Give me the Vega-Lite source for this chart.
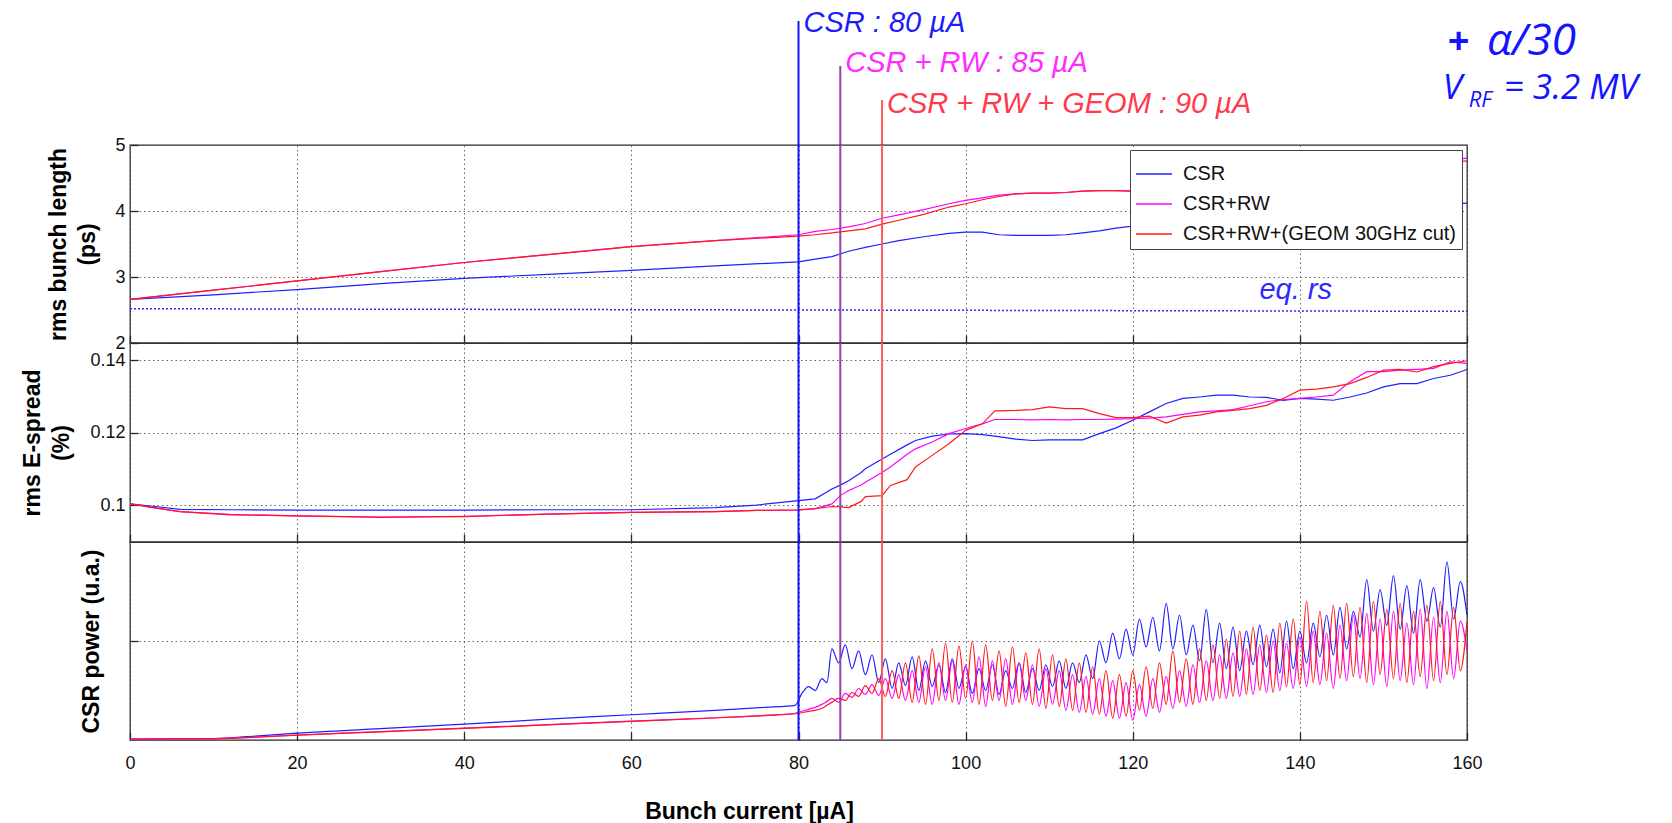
{
  "$schema": "https://vega.github.io/schema/vega-lite/v6.json",
  "autosize": {"type": "pad"},
  "padding": {"left": 21, "top": 0, "right": 5, "bottom": 0},
  "spacing": 0,
  "bounds": "flush",
  "config": {
    "font": "Liberation Sans",
    "view": {"stroke": "#262626", "strokeWidth": 1.3},
    "axis": {
      "domain": false,
      "grid": true,
      "gridColor": "#666666",
      "gridDash": [1.5, 3],
      "gridWidth": 1,
      "tickColor": "#262626",
      "tickSize": -8,
      "tickWidth": 1.3,
      "labelFont": "Liberation Sans",
      "labelFontSize": 18,
      "labelColor": "#111111",
      "labelPadding": 13,
      "titleFont": "Liberation Sans",
      "titleFontSize": 23,
      "titleFontWeight": "bold",
      "titleColor": "#000000",
      "titleLineHeight": 29
    }
  },
  "resolve": {
    "scale": {"x": "shared", "y": "independent", "color": "independent", "stroke": "independent", "strokeWidth": "independent"},
    "legend": {"color": "independent"}
  },
  "datasets": {
    "thresholds": [
      {"case": "CSR", "I": 80, "top": 0.855, "ty": 0.779, "text": "CSR : 80 µA"},
      {"case": "CSR + RW", "I": 85, "top": 0.545, "ty": 0.503, "text": "CSR + RW : 85 µA"},
      {"case": "CSR + RW + GEOM", "I": 90, "top": 0.31, "ty": 0.221, "text": "CSR + RW + GEOM : 90 µA"}
    ],
    "bunch": [
      {"I": 0, "CSR": 2.66, "CSR+RW": 2.66, "CSR+RW+(GEOM 30GHz cut)": 2.66},
      {"I": 10, "CSR": 2.73, "CSR+RW": 2.80, "CSR+RW+(GEOM 30GHz cut)": 2.80},
      {"I": 20, "CSR": 2.81, "CSR+RW": 2.94, "CSR+RW+(GEOM 30GHz cut)": 2.94},
      {"I": 30, "CSR": 2.90, "CSR+RW": 3.08, "CSR+RW+(GEOM 30GHz cut)": 3.08},
      {"I": 40, "CSR": 2.98, "CSR+RW": 3.22, "CSR+RW+(GEOM 30GHz cut)": 3.22},
      {"I": 50, "CSR": 3.04, "CSR+RW": 3.34, "CSR+RW+(GEOM 30GHz cut)": 3.34},
      {"I": 60, "CSR": 3.10, "CSR+RW": 3.46, "CSR+RW+(GEOM 30GHz cut)": 3.46},
      {"I": 70, "CSR": 3.17, "CSR+RW": 3.55, "CSR+RW+(GEOM 30GHz cut)": 3.55},
      {"I": 80, "CSR": 3.23, "CSR+RW": 3.64, "CSR+RW+(GEOM 30GHz cut)": 3.62},
      {"I": 82, "CSR": 3.27, "CSR+RW": 3.69, "CSR+RW+(GEOM 30GHz cut)": 3.64},
      {"I": 84, "CSR": 3.31, "CSR+RW": 3.72, "CSR+RW+(GEOM 30GHz cut)": 3.67},
      {"I": 86, "CSR": 3.39, "CSR+RW": 3.76, "CSR+RW+(GEOM 30GHz cut)": 3.70},
      {"I": 88, "CSR": 3.45, "CSR+RW": 3.81, "CSR+RW+(GEOM 30GHz cut)": 3.73},
      {"I": 90, "CSR": 3.50, "CSR+RW": 3.89, "CSR+RW+(GEOM 30GHz cut)": 3.80},
      {"I": 92, "CSR": 3.55, "CSR+RW": 3.94, "CSR+RW+(GEOM 30GHz cut)": 3.86},
      {"I": 95, "CSR": 3.61, "CSR+RW": 4.02, "CSR+RW+(GEOM 30GHz cut)": 3.95},
      {"I": 98, "CSR": 3.66, "CSR+RW": 4.11, "CSR+RW+(GEOM 30GHz cut)": 4.06},
      {"I": 100, "CSR": 3.68, "CSR+RW": 4.16, "CSR+RW+(GEOM 30GHz cut)": 4.11},
      {"I": 102, "CSR": 3.68, "CSR+RW": 4.20, "CSR+RW+(GEOM 30GHz cut)": 4.17},
      {"I": 104, "CSR": 3.64, "CSR+RW": 4.24, "CSR+RW+(GEOM 30GHz cut)": 4.22},
      {"I": 106, "CSR": 3.63, "CSR+RW": 4.26, "CSR+RW+(GEOM 30GHz cut)": 4.26},
      {"I": 108, "CSR": 3.63, "CSR+RW": 4.27, "CSR+RW+(GEOM 30GHz cut)": 4.27},
      {"I": 110, "CSR": 3.63, "CSR+RW": 4.27, "CSR+RW+(GEOM 30GHz cut)": 4.27},
      {"I": 112, "CSR": 3.64, "CSR+RW": 4.28, "CSR+RW+(GEOM 30GHz cut)": 4.28},
      {"I": 114, "CSR": 3.67, "CSR+RW": 4.30, "CSR+RW+(GEOM 30GHz cut)": 4.30},
      {"I": 116, "CSR": 3.70, "CSR+RW": 4.31, "CSR+RW+(GEOM 30GHz cut)": 4.31},
      {"I": 118, "CSR": 3.74, "CSR+RW": 4.31, "CSR+RW+(GEOM 30GHz cut)": 4.31},
      {"I": 120, "CSR": 3.77, "CSR+RW": 4.30, "CSR+RW+(GEOM 30GHz cut)": 4.30},
      {"I": 125, "CSR": 3.83, "CSR+RW": 4.33, "CSR+RW+(GEOM 30GHz cut)": 4.32},
      {"I": 130, "CSR": 3.88, "CSR+RW": 4.38, "CSR+RW+(GEOM 30GHz cut)": 4.37},
      {"I": 135, "CSR": 3.93, "CSR+RW": 4.45, "CSR+RW+(GEOM 30GHz cut)": 4.43},
      {"I": 140, "CSR": 3.97, "CSR+RW": 4.52, "CSR+RW+(GEOM 30GHz cut)": 4.50},
      {"I": 145, "CSR": 4.01, "CSR+RW": 4.59, "CSR+RW+(GEOM 30GHz cut)": 4.56},
      {"I": 150, "CSR": 4.05, "CSR+RW": 4.66, "CSR+RW+(GEOM 30GHz cut)": 4.63},
      {"I": 155, "CSR": 4.08, "CSR+RW": 4.73, "CSR+RW+(GEOM 30GHz cut)": 4.70},
      {"I": 160, "CSR": 4.12, "CSR+RW": 4.80, "CSR+RW+(GEOM 30GHz cut)": 4.76}
    ],
    "eqrs": [
      {"I": 0, "v": 2.52},
      {"I": 160, "v": 2.48}
    ],
    "spread": [
      {"I": 0, "CSR": 0.1003, "CSR+RW": 0.1003, "CSR+RW+(GEOM 30GHz cut)": 0.1003},
      {"I": 3, "CSR": 0.0996, "CSR+RW": 0.0992, "CSR+RW+(GEOM 30GHz cut)": 0.0992},
      {"I": 6, "CSR": 0.0988, "CSR+RW": 0.0982, "CSR+RW+(GEOM 30GHz cut)": 0.0982},
      {"I": 12, "CSR": 0.0987, "CSR+RW": 0.0974, "CSR+RW+(GEOM 30GHz cut)": 0.0973},
      {"I": 20, "CSR": 0.0986, "CSR+RW": 0.0970, "CSR+RW+(GEOM 30GHz cut)": 0.0970},
      {"I": 30, "CSR": 0.0986, "CSR+RW": 0.0967, "CSR+RW+(GEOM 30GHz cut)": 0.0966},
      {"I": 40, "CSR": 0.0986, "CSR+RW": 0.0969, "CSR+RW+(GEOM 30GHz cut)": 0.0968},
      {"I": 50, "CSR": 0.0987, "CSR+RW": 0.0975, "CSR+RW+(GEOM 30GHz cut)": 0.0975},
      {"I": 60, "CSR": 0.0987, "CSR+RW": 0.0980, "CSR+RW+(GEOM 30GHz cut)": 0.0980},
      {"I": 70, "CSR": 0.0993, "CSR+RW": 0.0982, "CSR+RW+(GEOM 30GHz cut)": 0.0982},
      {"I": 75, "CSR": 0.1000, "CSR+RW": 0.0985, "CSR+RW+(GEOM 30GHz cut)": 0.0985},
      {"I": 80, "CSR": 0.1012, "CSR+RW": 0.0986, "CSR+RW+(GEOM 30GHz cut)": 0.0987},
      {"I": 82, "CSR": 0.1017, "CSR+RW": 0.0990, "CSR+RW+(GEOM 30GHz cut)": 0.0990},
      {"I": 84, "CSR": 0.1044, "CSR+RW": 0.1003, "CSR+RW+(GEOM 30GHz cut)": 0.0996},
      {"I": 85, "CSR": 0.1055, "CSR+RW": 0.1026, "CSR+RW+(GEOM 30GHz cut)": 0.0995},
      {"I": 86, "CSR": 0.1067, "CSR+RW": 0.1040, "CSR+RW+(GEOM 30GHz cut)": 0.0993},
      {"I": 87.5, "CSR": 0.1090, "CSR+RW": 0.1055, "CSR+RW+(GEOM 30GHz cut)": 0.1010},
      {"I": 88, "CSR": 0.1100, "CSR+RW": 0.1063, "CSR+RW+(GEOM 30GHz cut)": 0.1023},
      {"I": 90, "CSR": 0.1127, "CSR+RW": 0.1090, "CSR+RW+(GEOM 30GHz cut)": 0.1026},
      {"I": 91, "CSR": 0.1140, "CSR+RW": 0.1105, "CSR+RW+(GEOM 30GHz cut)": 0.1054},
      {"I": 93, "CSR": 0.1166, "CSR+RW": 0.1140, "CSR+RW+(GEOM 30GHz cut)": 0.1070},
      {"I": 94, "CSR": 0.1178, "CSR+RW": 0.1155, "CSR+RW+(GEOM 30GHz cut)": 0.1105},
      {"I": 96, "CSR": 0.1190, "CSR+RW": 0.1174, "CSR+RW+(GEOM 30GHz cut)": 0.1137},
      {"I": 98, "CSR": 0.1196, "CSR+RW": 0.1197, "CSR+RW+(GEOM 30GHz cut)": 0.1169},
      {"I": 100, "CSR": 0.1197, "CSR+RW": 0.1211, "CSR+RW+(GEOM 30GHz cut)": 0.1206},
      {"I": 102, "CSR": 0.1194, "CSR+RW": 0.1224, "CSR+RW+(GEOM 30GHz cut)": 0.1224},
      {"I": 103.5, "CSR": 0.1190, "CSR+RW": 0.1236, "CSR+RW+(GEOM 30GHz cut)": 0.1260},
      {"I": 106, "CSR": 0.1182, "CSR+RW": 0.1236, "CSR+RW+(GEOM 30GHz cut)": 0.1261},
      {"I": 108, "CSR": 0.1178, "CSR+RW": 0.1235, "CSR+RW+(GEOM 30GHz cut)": 0.1263},
      {"I": 110, "CSR": 0.1180, "CSR+RW": 0.1236, "CSR+RW+(GEOM 30GHz cut)": 0.1271},
      {"I": 112, "CSR": 0.1180, "CSR+RW": 0.1235, "CSR+RW+(GEOM 30GHz cut)": 0.1266},
      {"I": 114, "CSR": 0.1180, "CSR+RW": 0.1236, "CSR+RW+(GEOM 30GHz cut)": 0.1266},
      {"I": 116, "CSR": 0.1197, "CSR+RW": 0.1236, "CSR+RW+(GEOM 30GHz cut)": 0.1252},
      {"I": 118, "CSR": 0.1213, "CSR+RW": 0.1237, "CSR+RW+(GEOM 30GHz cut)": 0.1241},
      {"I": 120, "CSR": 0.1234, "CSR+RW": 0.1238, "CSR+RW+(GEOM 30GHz cut)": 0.1241},
      {"I": 122, "CSR": 0.1257, "CSR+RW": 0.1240, "CSR+RW+(GEOM 30GHz cut)": 0.1245},
      {"I": 124, "CSR": 0.1280, "CSR+RW": 0.1243, "CSR+RW+(GEOM 30GHz cut)": 0.1226},
      {"I": 126, "CSR": 0.1294, "CSR+RW": 0.1250, "CSR+RW+(GEOM 30GHz cut)": 0.1243},
      {"I": 128, "CSR": 0.1298, "CSR+RW": 0.1257, "CSR+RW+(GEOM 30GHz cut)": 0.1248},
      {"I": 130, "CSR": 0.1303, "CSR+RW": 0.1260, "CSR+RW+(GEOM 30GHz cut)": 0.1257},
      {"I": 132, "CSR": 0.1303, "CSR+RW": 0.1263, "CSR+RW+(GEOM 30GHz cut)": 0.1261},
      {"I": 134, "CSR": 0.1298, "CSR+RW": 0.1274, "CSR+RW+(GEOM 30GHz cut)": 0.1266},
      {"I": 136, "CSR": 0.1297, "CSR+RW": 0.1285, "CSR+RW+(GEOM 30GHz cut)": 0.1275},
      {"I": 138, "CSR": 0.1289, "CSR+RW": 0.1291, "CSR+RW+(GEOM 30GHz cut)": 0.1294},
      {"I": 140, "CSR": 0.1294, "CSR+RW": 0.1294, "CSR+RW+(GEOM 30GHz cut)": 0.1317},
      {"I": 142, "CSR": 0.1292, "CSR+RW": 0.1298, "CSR+RW+(GEOM 30GHz cut)": 0.1320},
      {"I": 144, "CSR": 0.1289, "CSR+RW": 0.1303, "CSR+RW+(GEOM 30GHz cut)": 0.1326},
      {"I": 146, "CSR": 0.1298, "CSR+RW": 0.1340, "CSR+RW+(GEOM 30GHz cut)": 0.1335},
      {"I": 148, "CSR": 0.1309, "CSR+RW": 0.1368, "CSR+RW+(GEOM 30GHz cut)": 0.1352},
      {"I": 150, "CSR": 0.1326, "CSR+RW": 0.1368, "CSR+RW+(GEOM 30GHz cut)": 0.1372},
      {"I": 152, "CSR": 0.1335, "CSR+RW": 0.1372, "CSR+RW+(GEOM 30GHz cut)": 0.1374},
      {"I": 154, "CSR": 0.1335, "CSR+RW": 0.1374, "CSR+RW+(GEOM 30GHz cut)": 0.1367},
      {"I": 156, "CSR": 0.1349, "CSR+RW": 0.1377, "CSR+RW+(GEOM 30GHz cut)": 0.1382},
      {"I": 158, "CSR": 0.1358, "CSR+RW": 0.1395, "CSR+RW+(GEOM 30GHz cut)": 0.1391},
      {"I": 160, "CSR": 0.1374, "CSR+RW": 0.1391, "CSR+RW+(GEOM 30GHz cut)": 0.1398}
    ],
    "power": [
      {"I": 0, "CSR": 0.01, "CSR+RW": 0.01, "CSR+RW+(GEOM 30GHz cut)": 0.01},
      {"I": 10, "CSR": 0.015, "CSR+RW": 0.012, "CSR+RW+(GEOM 30GHz cut)": 0.012},
      {"I": 15, "CSR": 0.04, "CSR+RW": 0.03, "CSR+RW+(GEOM 30GHz cut)": 0.028},
      {"I": 20, "CSR": 0.07, "CSR+RW": 0.05, "CSR+RW+(GEOM 30GHz cut)": 0.05},
      {"I": 30, "CSR": 0.115, "CSR+RW": 0.085, "CSR+RW+(GEOM 30GHz cut)": 0.082},
      {"I": 40, "CSR": 0.16, "CSR+RW": 0.12, "CSR+RW+(GEOM 30GHz cut)": 0.118},
      {"I": 50, "CSR": 0.21, "CSR+RW": 0.155, "CSR+RW+(GEOM 30GHz cut)": 0.152},
      {"I": 60, "CSR": 0.255, "CSR+RW": 0.19, "CSR+RW+(GEOM 30GHz cut)": 0.188},
      {"I": 70, "CSR": 0.30, "CSR+RW": 0.225, "CSR+RW+(GEOM 30GHz cut)": 0.222},
      {"I": 76, "CSR": 0.33, "CSR+RW": 0.25, "CSR+RW+(GEOM 30GHz cut)": 0.247},
      {"I": 79.6, "CSR": 0.35, "CSR+RW": 0.27, "CSR+RW+(GEOM 30GHz cut)": 0.265},
      {"I": 80.4, "CSR": 0.47, "CSR+RW": 0.29, "CSR+RW+(GEOM 30GHz cut)": 0.275},
      {"I": 81.2, "CSR": 0.54, "CSR+RW": 0.31, "CSR+RW+(GEOM 30GHz cut)": 0.29},
      {"I": 82.0, "CSR": 0.50, "CSR+RW": 0.33, "CSR+RW+(GEOM 30GHz cut)": 0.30},
      {"I": 82.8, "CSR": 0.62, "CSR+RW": 0.36, "CSR+RW+(GEOM 30GHz cut)": 0.32},
      {"I": 83.4, "CSR": 0.58, "CSR+RW": 0.39, "CSR+RW+(GEOM 30GHz cut)": 0.35},
      {"I": 84.0, "CSR": 0.92, "CSR+RW": 0.42, "CSR+RW+(GEOM 30GHz cut)": 0.38},
      {"I": 84.8, "CSR": 0.78, "CSR+RW": 0.38, "CSR+RW+(GEOM 30GHz cut)": 0.42},
      {"I": 85.6, "CSR": 0.96, "CSR+RW": 0.47, "CSR+RW+(GEOM 30GHz cut)": 0.40},
      {"I": 86.4, "CSR": 0.72, "CSR+RW": 0.43, "CSR+RW+(GEOM 30GHz cut)": 0.48},
      {"I": 87.2, "CSR": 0.90, "CSR+RW": 0.52, "CSR+RW+(GEOM 30GHz cut)": 0.44},
      {"I": 88.0, "CSR": 0.66, "CSR+RW": 0.46, "CSR+RW+(GEOM 30GHz cut)": 0.55},
      {"I": 88.8, "CSR": 0.86, "CSR+RW": 0.56, "CSR+RW+(GEOM 30GHz cut)": 0.47},
      {"I": 89.6, "CSR": 0.58, "CSR+RW": 0.45, "CSR+RW+(GEOM 30GHz cut)": 0.62},
      {"I": 90.4, "CSR": 0.82, "CSR+RW": 0.62, "CSR+RW+(GEOM 30GHz cut)": 0.44},
      {"I": 91.2, "CSR": 0.52, "CSR+RW": 0.42, "CSR+RW+(GEOM 30GHz cut)": 0.70},
      {"I": 92.0, "CSR": 0.78, "CSR+RW": 0.66, "CSR+RW+(GEOM 30GHz cut)": 0.42},
      {"I": 92.8, "CSR": 0.55, "CSR+RW": 0.40, "CSR+RW+(GEOM 30GHz cut)": 0.78},
      {"I": 93.6, "CSR": 0.84, "CSR+RW": 0.70, "CSR+RW+(GEOM 30GHz cut)": 0.38},
      {"I": 94.4, "CSR": 0.50, "CSR+RW": 0.38, "CSR+RW+(GEOM 30GHz cut)": 0.85},
      {"I": 95.2, "CSR": 0.80, "CSR+RW": 0.74, "CSR+RW+(GEOM 30GHz cut)": 0.36},
      {"I": 96.0, "CSR": 0.54, "CSR+RW": 0.36, "CSR+RW+(GEOM 30GHz cut)": 0.92},
      {"I": 96.8, "CSR": 0.76, "CSR+RW": 0.78, "CSR+RW+(GEOM 30GHz cut)": 0.40},
      {"I": 97.6, "CSR": 0.48, "CSR+RW": 0.40, "CSR+RW+(GEOM 30GHz cut)": 0.98},
      {"I": 98.4, "CSR": 0.82, "CSR+RW": 0.80, "CSR+RW+(GEOM 30GHz cut)": 0.38},
      {"I": 99.2, "CSR": 0.52, "CSR+RW": 0.36, "CSR+RW+(GEOM 30GHz cut)": 0.95},
      {"I": 100.0, "CSR": 0.74, "CSR+RW": 0.76, "CSR+RW+(GEOM 30GHz cut)": 0.42},
      {"I": 100.8, "CSR": 0.47, "CSR+RW": 0.38, "CSR+RW+(GEOM 30GHz cut)": 1.00},
      {"I": 101.6, "CSR": 0.72, "CSR+RW": 0.84, "CSR+RW+(GEOM 30GHz cut)": 0.36},
      {"I": 102.4, "CSR": 0.50, "CSR+RW": 0.34, "CSR+RW+(GEOM 30GHz cut)": 0.96},
      {"I": 103.2, "CSR": 0.76, "CSR+RW": 0.80, "CSR+RW+(GEOM 30GHz cut)": 0.40},
      {"I": 104.0, "CSR": 0.46, "CSR+RW": 0.40, "CSR+RW+(GEOM 30GHz cut)": 0.90},
      {"I": 104.8, "CSR": 0.70, "CSR+RW": 0.82, "CSR+RW+(GEOM 30GHz cut)": 0.34},
      {"I": 105.6, "CSR": 0.52, "CSR+RW": 0.36, "CSR+RW+(GEOM 30GHz cut)": 0.94},
      {"I": 106.4, "CSR": 0.78, "CSR+RW": 0.78, "CSR+RW+(GEOM 30GHz cut)": 0.38},
      {"I": 107.2, "CSR": 0.48, "CSR+RW": 0.40, "CSR+RW+(GEOM 30GHz cut)": 0.88},
      {"I": 108.0, "CSR": 0.72, "CSR+RW": 0.76, "CSR+RW+(GEOM 30GHz cut)": 0.36},
      {"I": 108.8, "CSR": 0.50, "CSR+RW": 0.34, "CSR+RW+(GEOM 30GHz cut)": 0.92},
      {"I": 109.6, "CSR": 0.76, "CSR+RW": 0.72, "CSR+RW+(GEOM 30GHz cut)": 0.32},
      {"I": 110.4, "CSR": 0.54, "CSR+RW": 0.36, "CSR+RW+(GEOM 30GHz cut)": 0.86},
      {"I": 111.2, "CSR": 0.80, "CSR+RW": 0.70, "CSR+RW+(GEOM 30GHz cut)": 0.34},
      {"I": 112.0, "CSR": 0.52, "CSR+RW": 0.30, "CSR+RW+(GEOM 30GHz cut)": 0.82},
      {"I": 112.8, "CSR": 0.78, "CSR+RW": 0.66, "CSR+RW+(GEOM 30GHz cut)": 0.30},
      {"I": 113.6, "CSR": 0.58, "CSR+RW": 0.28, "CSR+RW+(GEOM 30GHz cut)": 0.78},
      {"I": 114.4, "CSR": 0.86, "CSR+RW": 0.64, "CSR+RW+(GEOM 30GHz cut)": 0.28},
      {"I": 115.2, "CSR": 0.62, "CSR+RW": 0.26, "CSR+RW+(GEOM 30GHz cut)": 0.74},
      {"I": 116.0, "CSR": 1.00, "CSR+RW": 0.62, "CSR+RW+(GEOM 30GHz cut)": 0.26},
      {"I": 116.8, "CSR": 0.78, "CSR+RW": 0.24, "CSR+RW+(GEOM 30GHz cut)": 0.70},
      {"I": 117.6, "CSR": 1.08, "CSR+RW": 0.60, "CSR+RW+(GEOM 30GHz cut)": 0.22},
      {"I": 118.4, "CSR": 0.82, "CSR+RW": 0.22, "CSR+RW+(GEOM 30GHz cut)": 0.66},
      {"I": 119.2, "CSR": 1.12, "CSR+RW": 0.58, "CSR+RW+(GEOM 30GHz cut)": 0.24},
      {"I": 120.0, "CSR": 0.86, "CSR+RW": 0.20, "CSR+RW+(GEOM 30GHz cut)": 0.70},
      {"I": 120.8, "CSR": 1.22, "CSR+RW": 0.56, "CSR+RW+(GEOM 30GHz cut)": 0.30},
      {"I": 121.6, "CSR": 0.94, "CSR+RW": 0.24, "CSR+RW+(GEOM 30GHz cut)": 0.74},
      {"I": 122.4, "CSR": 1.24, "CSR+RW": 0.62, "CSR+RW+(GEOM 30GHz cut)": 0.32},
      {"I": 123.2, "CSR": 0.90, "CSR+RW": 0.28, "CSR+RW+(GEOM 30GHz cut)": 0.78},
      {"I": 124.0, "CSR": 1.38, "CSR+RW": 0.64, "CSR+RW+(GEOM 30GHz cut)": 0.36},
      {"I": 124.8, "CSR": 0.92, "CSR+RW": 0.32, "CSR+RW+(GEOM 30GHz cut)": 0.90},
      {"I": 125.6, "CSR": 1.26, "CSR+RW": 0.70, "CSR+RW+(GEOM 30GHz cut)": 0.38},
      {"I": 126.4, "CSR": 0.86, "CSR+RW": 0.34, "CSR+RW+(GEOM 30GHz cut)": 0.82},
      {"I": 127.2, "CSR": 1.16, "CSR+RW": 0.76, "CSR+RW+(GEOM 30GHz cut)": 0.36},
      {"I": 128.0, "CSR": 0.80, "CSR+RW": 0.38, "CSR+RW+(GEOM 30GHz cut)": 0.92},
      {"I": 128.8, "CSR": 1.32, "CSR+RW": 0.80, "CSR+RW+(GEOM 30GHz cut)": 0.40},
      {"I": 129.6, "CSR": 0.78, "CSR+RW": 0.40, "CSR+RW+(GEOM 30GHz cut)": 0.96},
      {"I": 130.4, "CSR": 1.18, "CSR+RW": 0.86, "CSR+RW+(GEOM 30GHz cut)": 0.42},
      {"I": 131.2, "CSR": 0.72, "CSR+RW": 0.42, "CSR+RW+(GEOM 30GHz cut)": 1.02},
      {"I": 132.0, "CSR": 1.14, "CSR+RW": 0.88, "CSR+RW+(GEOM 30GHz cut)": 0.44},
      {"I": 132.8, "CSR": 0.70, "CSR+RW": 0.44, "CSR+RW+(GEOM 30GHz cut)": 1.10},
      {"I": 133.6, "CSR": 1.10, "CSR+RW": 0.92, "CSR+RW+(GEOM 30GHz cut)": 0.46},
      {"I": 134.4, "CSR": 0.76, "CSR+RW": 0.46, "CSR+RW+(GEOM 30GHz cut)": 1.14},
      {"I": 135.2, "CSR": 1.16, "CSR+RW": 0.96, "CSR+RW+(GEOM 30GHz cut)": 0.50},
      {"I": 136.0, "CSR": 0.74, "CSR+RW": 0.48, "CSR+RW+(GEOM 30GHz cut)": 1.06},
      {"I": 136.8, "CSR": 1.12, "CSR+RW": 1.00, "CSR+RW+(GEOM 30GHz cut)": 0.48},
      {"I": 137.6, "CSR": 0.68, "CSR+RW": 0.50, "CSR+RW+(GEOM 30GHz cut)": 1.18},
      {"I": 138.4, "CSR": 1.20, "CSR+RW": 0.98, "CSR+RW+(GEOM 30GHz cut)": 0.54},
      {"I": 139.2, "CSR": 0.72, "CSR+RW": 0.52, "CSR+RW+(GEOM 30GHz cut)": 1.22},
      {"I": 140.0, "CSR": 1.10, "CSR+RW": 1.04, "CSR+RW+(GEOM 30GHz cut)": 0.56},
      {"I": 140.8, "CSR": 0.78, "CSR+RW": 0.54, "CSR+RW+(GEOM 30GHz cut)": 1.40},
      {"I": 141.6, "CSR": 1.18, "CSR+RW": 1.10, "CSR+RW+(GEOM 30GHz cut)": 0.58},
      {"I": 142.4, "CSR": 0.84, "CSR+RW": 0.56, "CSR+RW+(GEOM 30GHz cut)": 1.30},
      {"I": 143.2, "CSR": 1.26, "CSR+RW": 1.08, "CSR+RW+(GEOM 30GHz cut)": 0.60},
      {"I": 144.0, "CSR": 0.86, "CSR+RW": 0.52, "CSR+RW+(GEOM 30GHz cut)": 1.36},
      {"I": 144.8, "CSR": 1.34, "CSR+RW": 1.16, "CSR+RW+(GEOM 30GHz cut)": 0.62},
      {"I": 145.6, "CSR": 0.92, "CSR+RW": 0.60, "CSR+RW+(GEOM 30GHz cut)": 1.38},
      {"I": 146.4, "CSR": 1.30, "CSR+RW": 1.26, "CSR+RW+(GEOM 30GHz cut)": 0.64},
      {"I": 147.2, "CSR": 1.04, "CSR+RW": 0.62, "CSR+RW+(GEOM 30GHz cut)": 1.34},
      {"I": 148.0, "CSR": 1.62, "CSR+RW": 1.28, "CSR+RW+(GEOM 30GHz cut)": 0.58},
      {"I": 148.8, "CSR": 1.10, "CSR+RW": 0.56, "CSR+RW+(GEOM 30GHz cut)": 1.40},
      {"I": 149.6, "CSR": 1.52, "CSR+RW": 1.22, "CSR+RW+(GEOM 30GHz cut)": 0.66},
      {"I": 150.4, "CSR": 1.16, "CSR+RW": 0.54, "CSR+RW+(GEOM 30GHz cut)": 1.32},
      {"I": 151.2, "CSR": 1.66, "CSR+RW": 1.30, "CSR+RW+(GEOM 30GHz cut)": 0.62},
      {"I": 152.0, "CSR": 1.12, "CSR+RW": 0.60, "CSR+RW+(GEOM 30GHz cut)": 1.38},
      {"I": 152.8, "CSR": 1.56, "CSR+RW": 1.18, "CSR+RW+(GEOM 30GHz cut)": 0.58},
      {"I": 153.6, "CSR": 1.08, "CSR+RW": 0.56, "CSR+RW+(GEOM 30GHz cut)": 1.30},
      {"I": 154.4, "CSR": 1.62, "CSR+RW": 1.32, "CSR+RW+(GEOM 30GHz cut)": 0.64},
      {"I": 155.2, "CSR": 1.20, "CSR+RW": 0.52, "CSR+RW+(GEOM 30GHz cut)": 1.36},
      {"I": 156.0, "CSR": 1.54, "CSR+RW": 1.24, "CSR+RW+(GEOM 30GHz cut)": 0.60},
      {"I": 156.8, "CSR": 1.14, "CSR+RW": 0.58, "CSR+RW+(GEOM 30GHz cut)": 1.40},
      {"I": 157.6, "CSR": 1.80, "CSR+RW": 1.30, "CSR+RW+(GEOM 30GHz cut)": 0.66},
      {"I": 158.4, "CSR": 1.22, "CSR+RW": 0.62, "CSR+RW+(GEOM 30GHz cut)": 1.34},
      {"I": 159.2, "CSR": 1.60, "CSR+RW": 1.20, "CSR+RW+(GEOM 30GHz cut)": 0.70},
      {"I": 160.0, "CSR": 1.26, "CSR+RW": 0.90, "CSR+RW+(GEOM 30GHz cut)": 1.20}
    ]
  },
  "vconcat": [
    {
      "width": 1337,
      "height": 145,
      "view": {"stroke": null},
      "layer": [
        {
          "data": {"name": "thresholds"},
          "mark": {"type": "rule"},
          "encoding": {
            "x": {"field": "I", "type": "quantitative", "scale": {"domain": [0, 160], "nice": false}, "axis": null},
            "y": {"field": "top", "type": "quantitative", "scale": {"domain": [0, 1], "nice": false}, "axis": null},
            "y2": {"datum": 0},
            "stroke": {"field": "case", "type": "nominal", "scale": {"domain": ["CSR", "CSR + RW", "CSR + RW + GEOM"], "range": ["#1414ff", "#9440a8", "#ff5a5a"]}, "legend": null},
            "strokeWidth": {"field": "case", "type": "ordinal", "scale": {"domain": ["CSR", "CSR + RW", "CSR + RW + GEOM"], "range": [2, 2, 3]}, "legend": null}
          }
        },
        {
          "data": {"name": "thresholds"},
          "mark": {"type": "text", "align": "left", "baseline": "alphabetic", "dx": 5, "font": "Liberation Sans", "fontStyle": "italic", "fontSize": 29},
          "encoding": {
            "x": {"field": "I", "type": "quantitative"},
            "y": {"field": "ty", "type": "quantitative"},
            "text": {"field": "text"},
            "color": {"field": "case", "type": "nominal", "scale": {"domain": ["CSR", "CSR + RW", "CSR + RW + GEOM"], "range": ["#1c1cff", "#ff2bff", "#ff3a4a"]}, "legend": null}
          }
        },
        {
          "data": {"values": [{"I": 157.7, "lvl": 0.625, "t": "+"}]},
          "mark": {"type": "text", "align": "left", "baseline": "alphabetic", "font": "Open Sans", "fontWeight": "bold", "fontSize": 38, "color": "#1414ff"},
          "encoding": {"x": {"field": "I", "type": "quantitative"}, "y": {"field": "lvl", "type": "quantitative"}, "text": {"field": "t"}}
        },
        {
          "data": {"values": [{"I": 162.4, "lvl": 0.62, "t": "α/30"}]},
          "mark": {"type": "text", "align": "left", "baseline": "alphabetic", "font": "Open Sans", "fontStyle": "italic", "fontSize": 44, "color": "#1414ff"},
          "encoding": {"x": {"field": "I", "type": "quantitative"}, "y": {"field": "lvl", "type": "quantitative"}, "text": {"field": "t"}}
        },
        {
          "data": {"values": [{"I": 157.1, "lvl": 0.317, "t": "V"}, {"I": 164.4, "lvl": 0.317, "t": "= 3.2 MV"}]},
          "mark": {"type": "text", "align": "left", "baseline": "alphabetic", "font": "Open Sans", "fontStyle": "italic", "fontSize": 35, "color": "#1414ff"},
          "encoding": {"x": {"field": "I", "type": "quantitative"}, "y": {"field": "lvl", "type": "quantitative"}, "text": {"field": "t"}}
        },
        {
          "data": {"values": [{"I": 160.2, "lvl": 0.265, "t": "RF"}]},
          "mark": {"type": "text", "align": "left", "baseline": "alphabetic", "font": "Open Sans", "fontStyle": "italic", "fontSize": 22, "color": "#1414ff"},
          "encoding": {"x": {"field": "I", "type": "quantitative"}, "y": {"field": "lvl", "type": "quantitative"}, "text": {"field": "t"}}
        }
      ]
    },
    {
      "width": 1337,
      "height": 198,
      "layer": [
        {
          "data": {"name": "bunch"},
          "transform": [{"fold": ["CSR", "CSR+RW", "CSR+RW+(GEOM 30GHz cut)"], "as": ["case", "v"]}],
          "mark": {"type": "line", "strokeWidth": 1.2},
          "encoding": {
            "x": {"field": "I", "type": "quantitative", "scale": {"domain": [0, 160], "nice": false}, "axis": {"labels": false, "title": null, "values": [0, 20, 40, 60, 80, 100, 120, 140, 160]}},
            "y": {"field": "v", "type": "quantitative", "scale": {"domain": [2, 5], "nice": false, "zero": false}, "axis": {"values": [2, 3, 4, 5], "format": "d", "title": ["rms bunch length", "(ps)"], "titlePadding": 15}},
            "color": {
              "field": "case", "type": "nominal",
              "scale": {"domain": ["CSR", "CSR+RW", "CSR+RW+(GEOM 30GHz cut)"], "range": ["#1f1fff", "#ff00ff", "#ff1a1a"]},
              "legend": {"title": null, "orient": "top-right", "offset": 5, "fillColor": "#ffffff", "strokeColor": "#444444", "padding": 5, "symbolType": "stroke", "symbolSize": 1296, "symbolStrokeWidth": 1.3, "labelFont": "Liberation Sans", "labelFontSize": 20, "labelColor": "#111111", "labelOffset": 10, "rowPadding": 1, "labelLimit": 400}
            }
          }
        },
        {
          "data": {"name": "eqrs"},
          "mark": {"type": "line", "strokeDash": [2, 2], "color": "#2b2bff", "strokeWidth": 1.5},
          "encoding": {"x": {"field": "I", "type": "quantitative"}, "y": {"field": "v", "type": "quantitative"}}
        },
        {
          "data": {"values": [{"I": 139.5, "v": 2.66, "t": "eq. rs"}]},
          "mark": {"type": "text", "align": "center", "baseline": "alphabetic", "font": "Liberation Sans", "fontStyle": "italic", "fontSize": 29, "color": "#2b2bff"},
          "encoding": {"x": {"field": "I", "type": "quantitative"}, "y": {"field": "v", "type": "quantitative"}, "text": {"field": "t"}}
        },
        {
          "data": {"name": "thresholds"},
          "mark": {"type": "rule"},
          "encoding": {
            "x": {"field": "I", "type": "quantitative"},
            "stroke": {"field": "case", "type": "nominal", "scale": {"domain": ["CSR", "CSR + RW", "CSR + RW + GEOM"], "range": ["#1414ff", "#9440a8", "#ff5a5a"]}, "legend": null},
            "strokeWidth": {"field": "case", "type": "ordinal", "scale": {"domain": ["CSR", "CSR + RW", "CSR + RW + GEOM"], "range": [2, 2, 3]}, "legend": null}
          }
        }
      ]
    },
    {
      "width": 1337,
      "height": 199,
      "layer": [
        {
          "data": {"name": "spread"},
          "transform": [{"fold": ["CSR", "CSR+RW", "CSR+RW+(GEOM 30GHz cut)"], "as": ["case", "v"]}],
          "mark": {"type": "line", "strokeWidth": 1.2},
          "encoding": {
            "x": {"field": "I", "type": "quantitative", "scale": {"domain": [0, 160], "nice": false}, "axis": {"labels": false, "title": null, "values": [0, 20, 40, 60, 80, 100, 120, 140, 160]}},
            "y": {"field": "v", "type": "quantitative", "scale": {"domain": [0.0898, 0.1447], "nice": false, "zero": false}, "axis": {"values": [0.1, 0.12, 0.14], "format": ".2~f", "title": ["rms E-spread", "(%)"], "titlePadding": 16}},
            "color": {"field": "case", "type": "nominal", "scale": {"domain": ["CSR", "CSR+RW", "CSR+RW+(GEOM 30GHz cut)"], "range": ["#1f1fff", "#ff00ff", "#ff1a1a"]}, "legend": null}
          }
        },
        {
          "data": {"name": "thresholds"},
          "mark": {"type": "rule"},
          "encoding": {
            "x": {"field": "I", "type": "quantitative"},
            "stroke": {"field": "case", "type": "nominal", "scale": {"domain": ["CSR", "CSR + RW", "CSR + RW + GEOM"], "range": ["#1414ff", "#9440a8", "#ff5a5a"]}, "legend": null},
            "strokeWidth": {"field": "case", "type": "ordinal", "scale": {"domain": ["CSR", "CSR + RW", "CSR + RW + GEOM"], "range": [2, 2, 3]}, "legend": null}
          }
        }
      ]
    },
    {
      "width": 1337,
      "height": 198,
      "layer": [
        {
          "data": {"name": "power"},
          "transform": [{"fold": ["CSR", "CSR+RW", "CSR+RW+(GEOM 30GHz cut)"], "as": ["case", "v"]}],
          "mark": {"type": "line", "strokeWidth": 1.2, "interpolate": "monotone"},
          "encoding": {
            "x": {"field": "I", "type": "quantitative", "scale": {"domain": [0, 160], "nice": false}, "axis": {"values": [0, 20, 40, 60, 80, 100, 120, 140, 160], "labelFlush": false, "labelPadding": 22, "title": "Bunch current [µA]", "titleX": 619, "titleY": 60}},
            "y": {"field": "v", "type": "quantitative", "scale": {"domain": [0, 2], "nice": false}, "axis": {"values": [1], "labels": false, "title": "CSR power (u.a.)", "titlePadding": 26}},
            "color": {"field": "case", "type": "nominal", "scale": {"domain": ["CSR", "CSR+RW", "CSR+RW+(GEOM 30GHz cut)"], "range": ["#1f1fff", "#ff00ff", "#ff1a1a"]}, "legend": null}
          }
        },
        {
          "data": {"name": "thresholds"},
          "mark": {"type": "rule"},
          "encoding": {
            "x": {"field": "I", "type": "quantitative"},
            "stroke": {"field": "case", "type": "nominal", "scale": {"domain": ["CSR", "CSR + RW", "CSR + RW + GEOM"], "range": ["#1414ff", "#9440a8", "#ff5a5a"]}, "legend": null},
            "strokeWidth": {"field": "case", "type": "ordinal", "scale": {"domain": ["CSR", "CSR + RW", "CSR + RW + GEOM"], "range": [2, 2, 3]}, "legend": null}
          }
        }
      ]
    }
  ]
}
